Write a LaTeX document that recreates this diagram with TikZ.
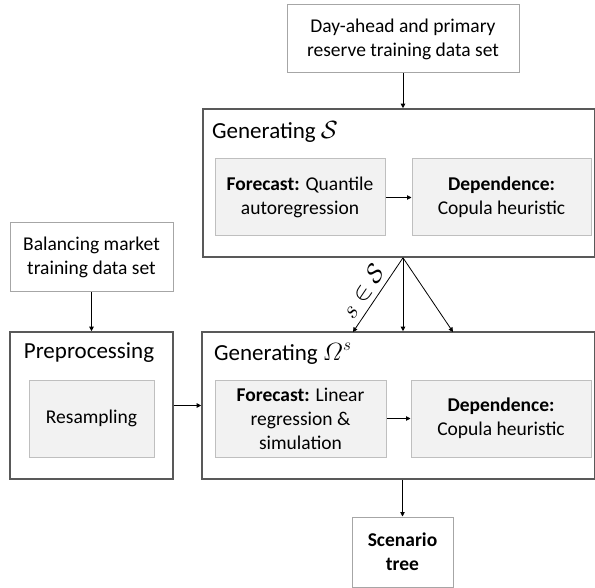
\documentclass[tikz,border=0pt]{standalone}
\usepackage{amsmath,amssymb}
\usepackage{fontspec}
\setmainfont{Carlito}
\usepackage{tikz}
\usetikzlibrary{arrows.meta}
\definecolor{framegray}{HTML}{595959}
\definecolor{inputgray}{HTML}{A6A6A6}
\definecolor{innergray}{HTML}{BFBFBF}
\definecolor{innerfill}{HTML}{F2F2F2}

\begin{document}
\begin{tikzpicture}[x=1pt,y=-1pt,
  font=\fontsize{19.5}{24}\selectfont,
  inputbox/.style={draw=inputgray,line width=1pt,align=center,inner sep=0pt},
  stagebox/.style={draw=framegray,line width=1.6pt,inner sep=0pt},
  methodbox/.style={draw=innergray,fill=innerfill,line width=1pt,align=center,inner sep=0pt,minimum height=77pt},
  stagetitle/.style={font=\fontsize{23}{28}\selectfont,inner sep=0pt},
  flow/.style={-{Triangle[length=4.5pt,width=4.5pt]},line width=0.8pt}]
  \useasboundingbox (0,0) rectangle (595,588);
  \node[inputbox,minimum width=232pt,minimum height=68pt] (dayahead) at (403,39)
    {Day-ahead and primary\\reserve training data set};
  \node[stagebox,minimum width=392pt,minimum height=148pt] (genS) at (399,183) {};
  \node[stagetitle,anchor=base west] (genStitle) at (212,139) {Generating $\mathcal{S}$};
  \node[methodbox,minimum width=170pt] (fcS) at (300,197.5)
    {\textbf{Forecast:} Quantile\\autoregression};
  \node[methodbox,minimum width=179pt] (depS) at (501.5,197.5)
    {\textbf{Dependence:}\\Copula heuristic};
  \node[inputbox,minimum width=163pt,minimum height=69pt] (balancing) at (91.5,257.5)
    {Balancing market\\training data set};
  \node[stagebox,minimum width=163pt,minimum height=147pt] (prep) at (91.5,405.5) {};
  \node[stagetitle,anchor=base] (preptitle) at (89,359) {Preprocessing};
  \node[methodbox,minimum width=125pt] (resampling) at (91.5,418.5) {Resampling};
  \node[stagebox,minimum width=393pt,minimum height=147pt] (genO) at (398.5,405.5) {};
  \node[stagetitle,anchor=base west] (genOtitle) at (214,360) {Generating $\varOmega^{s}$};
  \node[methodbox,minimum width=171pt] (fcO) at (300.5,418.5)
    {\textbf{Forecast:} Linear\\regression \&\\simulation};
  \node[methodbox,minimum width=180pt] (depO) at (501,418.5)
    {\textbf{Dependence:}\\Copula heuristic};
  \node[inputbox,minimum width=101pt,minimum height=70pt,font=\fontsize{19.5}{24}\selectfont\bfseries] (tree) at (402.5,552)
    {Scenario\\tree};
  \coordinate (fan) at (genS.south -| dayahead);
  \coordinate (fanleft) at (353,332);
  \coordinate (fanright) at (453,332);
  \draw[flow]
    (dayahead) -- (dayahead |- genS.north);
  \draw[flow]
    (fcS) -- (depS);
  \draw[flow]
    (balancing) -- (prep);
  \draw[flow]
    (prep) -- (genO);
  \draw[flow]
    (fcO) -- (depO);
  \draw[flow]
    (fan) -- (fanleft)
    node[pos=0.56,sloped,above=4pt,inner sep=1pt,font=\fontsize{25}{28}\selectfont] {$s\in\mathcal{S}$};
  \draw[flow]
    (fan) -- (fan |- genO.north);
  \draw[flow]
    (fan) -- (fanright);
  \draw[flow]
    (genO.south -| tree) -- (tree);
\end{tikzpicture}
\end{document}
